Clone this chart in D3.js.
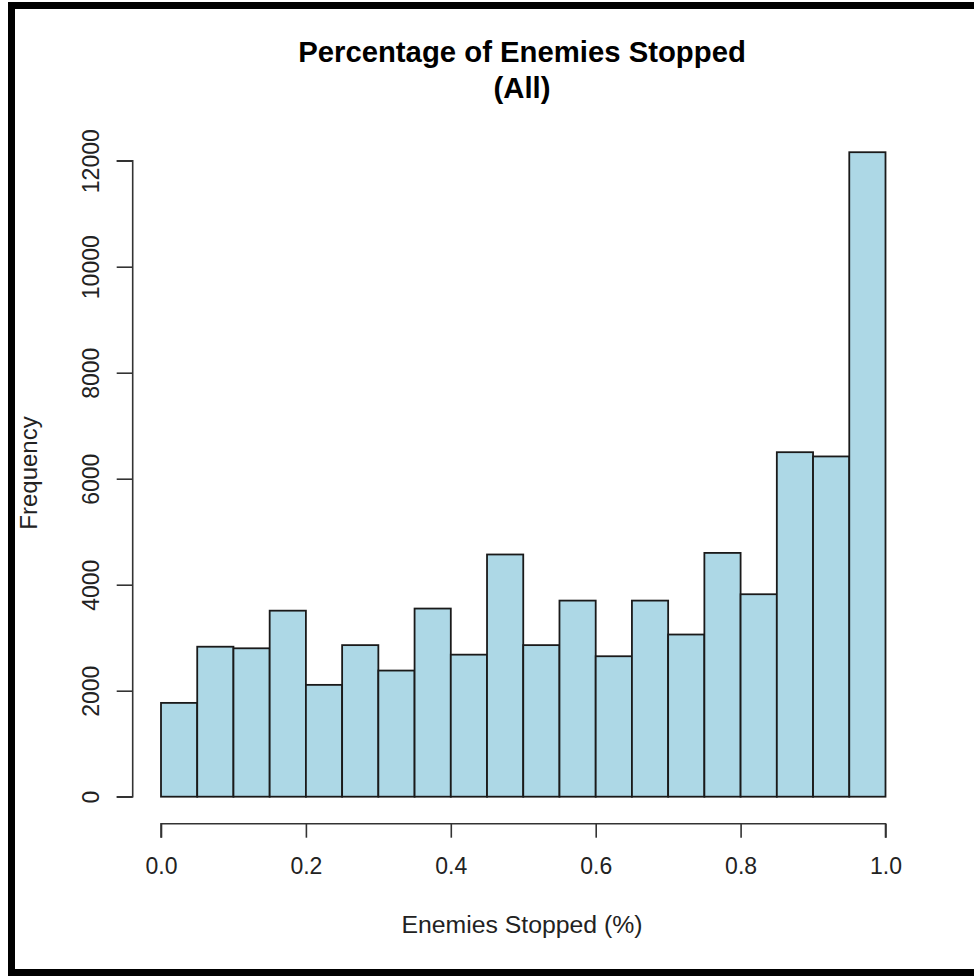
<!DOCTYPE html>
<html><head><meta charset="utf-8">
<script src="https://cdn.jsdelivr.net/npm/d3@7"></script>
<style>body{margin:0;background:#fff}svg{display:block}</style>
</head><body>
<svg id="c" width="974" height="976"></svg>
<script>
const binStarts = [0.00,0.05,0.10,0.15,0.20,0.25,0.30,0.35,0.40,0.45,0.50,0.55,0.60,0.65,0.70,0.75,0.80,0.85,0.90,0.95];
const binWidth = 0.05;
const frequencies = [1770,2830,2800,3510,2110,2860,2380,3550,2680,4570,2860,3700,2650,3700,3060,4600,3820,6500,6420,12160];
const xTicks = [0,0.2,0.4,0.6,0.8,1.0];
const yTicks = [0,2000,4000,6000,8000,10000,12000];
const titleLines = ["Percentage of Enemies Stopped","(All)"];
const xLabel = "Enemies Stopped (%)";
const yLabel = "Frequency";

const svg = d3.select("#c");
const font = "'Liberation Sans', Arial, sans-serif";
const x = d3.scaleLinear().domain([0,1]).range([161,885.5]);
const y = d3.scaleLinear().domain([0,12000]).range([796.7,160.7]);

// frame
svg.append("rect").attr("x",8).attr("y",2).attr("width",966).attr("height",7).attr("fill","#000");
svg.append("rect").attr("x",8).attr("y",2).attr("width",7).attr("height",974).attr("fill","#000");
svg.append("rect").attr("x",8).attr("y",969).attr("width",966).attr("height",7).attr("fill","#000");

// bars
svg.append("g").selectAll("rect").data(frequencies).join("rect")
  .attr("x",(d,i)=>x(binStarts[i]))
  .attr("width",(d,i)=>x(binStarts[i]+binWidth)-x(binStarts[i]))
  .attr("y",d=>y(d))
  .attr("height",d=>y(0)-y(d))
  .attr("fill","#add8e6").attr("stroke","#1a1a1a").attr("stroke-width",1.8);

// x axis
const xa = svg.append("g").attr("transform","translate(0,823.7)")
  .call(d3.axisBottom(x).tickValues(xTicks).tickFormat(d3.format(".1f")).tickSize(14).tickPadding(20));
xa.select(".domain").attr("stroke","#333").attr("stroke-width",1.6);
xa.selectAll(".tick line").attr("stroke","#333").attr("stroke-width",1.6);
xa.selectAll("text").attr("font-family",font).attr("font-size",23).attr("fill","#222");
xa.select(".domain").attr("d",`M${x(0)},14V0H${x(1)}V14`);

// y axis
const ya = svg.append("g").attr("transform","translate(132.7,0)")
  .call(d3.axisLeft(y).tickValues(yTicks).tickFormat(d3.format("d")).tickSize(16).tickPadding(0));
ya.select(".domain").attr("stroke","#333").attr("stroke-width",1.6).attr("d",`M-16,${y(0)}H0V${y(12000)}H-16`);
ya.selectAll(".tick line").attr("stroke","#333").attr("stroke-width",1.6);
ya.selectAll("text").attr("font-family",font).attr("font-size",23).attr("fill","#222")
  .attr("x",0).attr("dy",0).attr("text-anchor","middle")
  .attr("transform","translate(-34,0) rotate(-90)");

// title
svg.append("text").attr("x",522).attr("y",62).attr("text-anchor","middle")
  .attr("font-family",font).attr("font-weight","bold").attr("font-size",29.3).attr("fill","#000").text(titleLines[0]);
svg.append("text").attr("x",522).attr("y",98).attr("text-anchor","middle")
  .attr("font-family",font).attr("font-weight","bold").attr("font-size",29.3).attr("fill","#000").text(titleLines[1]);

// axis labels
svg.append("text").attr("x",522).attr("y",933).attr("text-anchor","middle")
  .attr("font-family",font).attr("font-size",24.8).attr("fill","#222").text(xLabel);
svg.append("text").attr("transform","translate(37,473) rotate(-90)").attr("text-anchor","middle")
  .attr("font-family",font).attr("font-size",24).attr("fill","#222").text(yLabel);
</script>
</body></html>
